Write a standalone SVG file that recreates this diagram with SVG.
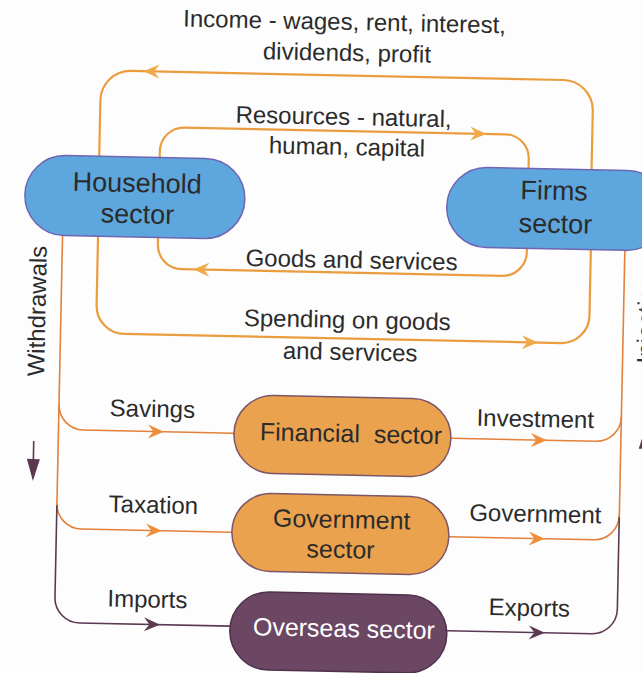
<svg xmlns="http://www.w3.org/2000/svg" xmlns:xlink="http://www.w3.org/1999/xlink" width="642" height="673" viewBox="0 0 642 673">
  <style>
    text { font-family: "Liberation Sans", Arial, sans-serif; fill: #2b2b2b; }
    .lbl { font-size: 24px; text-anchor: middle; }
    .big { font-size: 27px; text-anchor: middle; }
    .mid { font-size: 25px; text-anchor: middle; white-space: pre; }
    .blue { fill: #5ea7de; stroke: #6e66b3; stroke-width: 1.5; }
    .amber { fill: #eba24e; stroke: #7d5566; stroke-width: 1.5; }
    .plum { fill: #6c4764; stroke: #4f3249; stroke-width: 1.5; }
    .loop { fill: none; stroke: #eb9c3f; stroke-width: 2.2; }
    .flow { fill: none; stroke: #e3813a; stroke-width: 1.6; }
    .leak { fill: none; stroke: #5b3953; stroke-width: 1.6; }
    .ah-loop { fill: #f0a848; }
    .ah-flow { fill: #ee8d3a; }
    .ah-leak { fill: #5b3953; }
  </style>
  <defs>
    <!-- barbed arrowhead, tip at the origin, pointing along +x -->
    <path id="ah" d="M0,0 L-16,-7 L-10.5,0 L-16,7 Z"/>
  </defs>

  <rect width="642" height="673" fill="#fdfdfd"/>

  <g transform="rotate(1.2 321 336)">
    <g id="connectors">
      <!-- circular flow between households and firms -->
      <path class="loop" d="M95.5,161 V105 A30,30 0 0 1 125.5,75 H558 A30,30 0 0 1 588,105 V164"/>
      <path class="loop" d="M156,161 V154.5 A24,24 0 0 1 180,130.5 H501 A24,24 0 0 1 525,154.5 V164"/>
      <path class="loop" d="M525,244 V248 A24,24 0 0 1 501,272 H180 A24,24 0 0 1 156,248 V241"/>
      <path class="loop" d="M96,241 V310 A28,28 0 0 0 124,338 H561 A28,28 0 0 0 589,310 V244"/>
      <use xlink:href="#ah" class="ah-loop" transform="translate(138,75) rotate(180)"/>
      <use xlink:href="#ah" class="ah-loop" transform="translate(482,130.5)"/>
      <use xlink:href="#ah" class="ah-loop" transform="translate(192,272) rotate(180)"/>
      <use xlink:href="#ah" class="ah-loop" transform="translate(538,338)"/>

      <!-- withdrawals -->
      <path class="flow" d="M60.5,240 V512"/>
      <path class="flow" d="M60.5,410 A25,25 0 0 0 85.5,435 H236"/>
      <path class="flow" d="M60.5,509 A25,25 0 0 0 85.5,534 H236"/>
      <path class="leak" d="M60.5,511 V603 A25,25 0 0 0 85.5,628 H236"/>
      <use xlink:href="#ah" class="ah-flow" transform="translate(166,435)"/>
      <use xlink:href="#ah" class="ah-flow" transform="translate(166,534)"/>
      <use xlink:href="#ah" class="ah-leak" transform="translate(166,628)"/>

      <!-- injections -->
      <path class="flow" d="M623,244 V512"/>
      <path class="flow" d="M453,435.5 H598 A25,25 0 0 0 623,410.5"/>
      <path class="flow" d="M453,534 H598 A25,25 0 0 0 623,509"/>
      <path class="leak" d="M453,628 H598 A25,25 0 0 0 623,603 V511"/>
      <use xlink:href="#ah" class="ah-flow" transform="translate(549,435.5)"/>
      <use xlink:href="#ah" class="ah-flow" transform="translate(549,534)"/>
      <use xlink:href="#ah" class="ah-leak" transform="translate(551,628)"/>

      <!-- side direction arrows -->
      <path class="leak" d="M36,447 V470"/>
      <path class="ah-leak" d="M36,487 L29.5,465 L42.5,465 Z"/>
      <path class="leak" d="M647,460 V438"/>
      <path class="ah-leak" d="M647,422 L641,442 L653,442 Z"/>
    </g>

    <g id="flow-labels">
      <text class="lbl" x="338" y="29.5">Income - wages, rent, interest,</text>
      <text class="lbl" x="341" y="60.5">dividends, profit</text>
      <text class="lbl" x="339" y="124.5">Resources - natural,</text>
      <text class="lbl" x="343" y="154.5">human, capital</text>
      <text class="lbl" x="350" y="267.5">Goods and services</text>
      <text class="lbl" x="347" y="327.5">Spending on goods</text>
      <text class="lbl" x="350.5" y="359.5">and services</text>
      <text class="lbl" x="154" y="420.5">Savings</text>
      <text class="lbl" x="157" y="516.5">Taxation</text>
      <text class="lbl" x="153" y="611">Imports</text>
      <text class="lbl" x="537" y="422.5">Investment</text>
      <text class="lbl" x="539" y="517.5">Government</text>
      <text class="lbl" x="535" y="611.5">Exports</text>
      <text class="lbl" transform="translate(45,317) rotate(-90)">Withdrawals</text>
      <text class="lbl" transform="translate(654,306) rotate(-90)">Injections</text>
    </g>

    <g id="household">
      <rect class="blue" x="22" y="161" width="220" height="80" rx="40"/>
      <text class="big" x="134" y="196">Household</text>
      <text class="big" x="135" y="227">sector</text>
    </g>

    <g id="firms">
      <rect class="blue" x="444" y="164" width="220" height="80" rx="40"/>
      <text class="big" x="551" y="195">Firms</text>
      <text class="big" x="553" y="228">sector</text>
    </g>

    <g id="financial">
      <rect class="amber" x="236" y="396.5" width="217" height="78" rx="39"/>
      <text class="mid" x="353" y="441.5">Financial  sector</text>
    </g>

    <g id="government">
      <rect class="amber" x="236" y="494.5" width="217" height="78" rx="39"/>
      <text class="mid" x="345.5" y="527.5">Government</text>
      <text class="mid" x="345" y="557.5">sector</text>
    </g>

    <g id="overseas">
      <rect class="plum" x="236" y="593" width="217" height="78" rx="39"/>
      <text class="mid" x="350" y="636.5" style="fill:#ffffff">Overseas sector</text>
    </g>
  </g>
</svg>
